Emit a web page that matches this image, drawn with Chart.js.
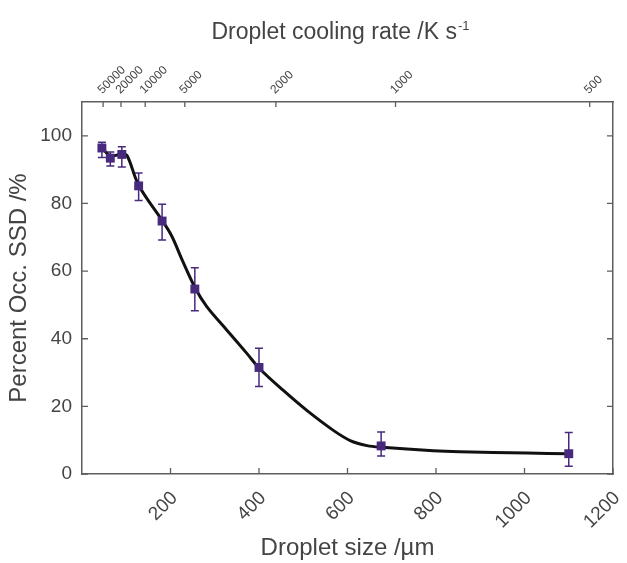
<!DOCTYPE html>
<html>
<head>
<meta charset="utf-8">
<script src="https://cdn.jsdelivr.net/npm/chart.js@4/dist/chart.umd.min.js"></script>
<style>
html,body{margin:0;padding:0;background:#ffffff;}
#c{display:block;}
</style>
</head>
<body>
<canvas id="c" width="627" height="563"></canvas>
<script>
// ---- data ----
const sizes   = [45, 64, 90, 128, 181, 255, 400, 676, 1100];
const percent = [96.4, 93.4, 94.5, 85.2, 74.8, 54.7, 31.5, 8.3, 6.0];
const errUp   = [1.7, 1.8, 2.3, 3.8, 5.0, 6.3, 5.7, 4.1, 6.3];
const errDown = [2.8, 2.3, 3.7, 4.3, 5.6, 6.4, 5.6, 3.0, 3.7];

const curveX = [45, 64, 90, 102, 128, 182, 203, 226, 257, 282, 327, 373, 401, 455, 508, 568, 606, 644, 678, 794, 854, 1006, 1100];
const curveY = [96.5, 94.1, 94.6, 94.1, 85.4, 74.8, 70.3, 63.4, 54.7, 49.5, 42.6, 35.6, 31.2, 24.7, 18.8, 12.9, 9.9, 8.4, 7.9, 6.9, 6.6, 6.2, 6.0];

const xTickVals = [200, 400, 600, 800, 1000, 1200];
const yTickVals = [0, 20, 40, 60, 80, 100];
const coolPos    = [47.7, 88.1, 142.8, 232.3, 438.2, 708.5, 1147.3];
const coolLabels = ['50000', '20000', '10000', '5000', '2000', '1000', '500'];

const FONT = "'Liberation Sans', Arial, sans-serif";
const AXIS_COLOR = '#5e5e5e';
const TEXT_COLOR = '#444444';
const MARK_COLOR = '#472a7e';

const extrasPlugin = {
  id: 'extras',
  beforeDatasetsDraw(chart) {
    const ctx = chart.ctx;
    const xs = chart.scales.x, ys = chart.scales.y;
    ctx.save();
    ctx.strokeStyle = MARK_COLOR;
    ctx.lineWidth = 1.5;
    for (let i = 0; i < sizes.length; i++) {
      const px = xs.getPixelForValue(sizes[i]);
      const pt = ys.getPixelForValue(percent[i] + errUp[i]);
      const pb = ys.getPixelForValue(percent[i] - errDown[i]);
      ctx.beginPath();
      ctx.moveTo(px, pt); ctx.lineTo(px, pb);
      ctx.moveTo(px - 4, pt); ctx.lineTo(px + 4, pt);
      ctx.moveTo(px - 4, pb); ctx.lineTo(px + 4, pb);
      ctx.stroke();
    }
    ctx.restore();
  },
  afterDraw(chart) {
    const ctx = chart.ctx;
    const a = chart.chartArea;
    const xs = chart.scales.x, ys = chart.scales.y;
    ctx.save();
    ctx.strokeStyle = AXIS_COLOR;
    ctx.lineWidth = 1.3;
    ctx.beginPath();
    xTickVals.forEach(v => {
      const p = xs.getPixelForValue(v);
      ctx.moveTo(p, a.bottom); ctx.lineTo(p, a.bottom - 6);
    });
    coolPos.forEach(v => {
      const p = xs.getPixelForValue(v);
      ctx.moveTo(p, a.top); ctx.lineTo(p, a.top + 5);
    });
    yTickVals.forEach(v => {
      const p = ys.getPixelForValue(v);
      ctx.moveTo(a.left, p); ctx.lineTo(a.left + 6, p);
      ctx.moveTo(a.right, p); ctx.lineTo(a.right - 6, p);
    });
    ctx.stroke();

    // top title with superscript
    const main = 'Droplet cooling rate /K s';
    const sup = '-1';
    ctx.fillStyle = TEXT_COLOR;
    ctx.textBaseline = 'alphabetic';
    ctx.textAlign = 'left';
    ctx.font = '23px ' + FONT;
    const w1 = ctx.measureText(main).width;
    ctx.font = '13px ' + FONT;
    const w2 = ctx.measureText(sup).width;
    const x0 = 340 - (w1 + w2) / 2;
    ctx.font = '23px ' + FONT;
    ctx.fillText(main, x0, 39);
    ctx.font = '13px ' + FONT;
    ctx.fillText(sup, x0 + w1 + 1, 30);
    ctx.restore();
  }
};

new Chart(document.getElementById('c'), {
  data: {
    datasets: [
      {
        type: 'scatter',
        label: 'Measured',
        data: sizes.map((s, i) => ({x: s, y: percent[i]})),
        pointStyle: 'rect',
        pointRadius: 6.3,
        pointHoverRadius: 6.3,
        backgroundColor: MARK_COLOR,
        borderColor: MARK_COLOR,
        borderWidth: 0,
        showLine: false,
        xAxisID: 'x', yAxisID: 'y'
      },
      {
        type: 'line',
        label: 'Fit',
        data: curveX.map((s, i) => ({x: s, y: curveY[i]})),
        borderColor: '#111111',
        borderWidth: 3,
        pointRadius: 0,
        fill: false,
        tension: 0.35,
        xAxisID: 'x', yAxisID: 'y'
      }
    ]
  },
  options: {
    responsive: false,
    animation: false,
    devicePixelRatio: 1,
    layout: { padding: 0 },
    plugins: {
      legend: { display: false },
      tooltip: { enabled: false }
    },
    scales: {
      x: {
        type: 'linear', position: 'bottom', min: 0, max: 1200,
        afterBuildTicks(s) { s.ticks = xTickVals.map(v => ({value: v})); },
        afterFit(s) { s.height = 89; s.paddingLeft = 0; s.paddingRight = 0; },
        grid: { display: false, drawTicks: false },
        border: { display: true, color: AXIS_COLOR, width: 1.5 },
        ticks: {
          autoSkip: false, minRotation: 45, maxRotation: 45, padding: 13, labelOffset: 4,
          color: TEXT_COLOR, font: { family: FONT, size: 19 },
          callback: v => String(v)
        },
        title: {
          display: true, text: 'Droplet size /µm', color: TEXT_COLOR,
          font: { family: FONT, size: 24 }, padding: { top: 0, bottom: 0 }
        }
      },
      x2: {
        type: 'linear', position: 'top', min: 0, max: 1200,
        afterBuildTicks(s) { s.ticks = coolPos.map(v => ({value: v})); },
        afterFit(s) { s.height = 102; s.paddingLeft = 0; s.paddingRight = 0; },
        grid: { display: false, drawTicks: false },
        border: { display: true, color: AXIS_COLOR, width: 1.5 },
        ticks: {
          autoSkip: false, minRotation: 45, maxRotation: 45, padding: 5, labelOffset: 7,
          color: TEXT_COLOR, font: { family: FONT, size: 12 },
          callback: (v, i) => coolLabels[i]
        }
      },
      y: {
        type: 'linear', position: 'left', min: 0, max: 110,
        afterBuildTicks(s) { s.ticks = yTickVals.map(v => ({value: v})); },
        afterFit(s) { s.width = 82; s.paddingTop = 0; s.paddingBottom = 0; },
        grid: { display: false, drawTicks: false },
        border: { display: true, color: AXIS_COLOR, width: 1.5 },
        ticks: { padding: 10, color: TEXT_COLOR, font: { family: FONT, size: 19 } },
        title: {
          display: true, text: 'Percent Occ. SSD /%', color: TEXT_COLOR,
          font: { family: FONT, size: 24 }, padding: { top: 5, bottom: 0 }
        }
      },
      yR: {
        type: 'linear', position: 'right', min: 0, max: 110,
        afterFit(s) { s.width = 14; s.paddingTop = 0; s.paddingBottom = 0; },
        grid: { display: false, drawTicks: false },
        border: { display: true, color: AXIS_COLOR, width: 1.5 },
        ticks: { display: false }
      }
    }
  },
  plugins: [extrasPlugin]
});
</script>
</body>
</html>
